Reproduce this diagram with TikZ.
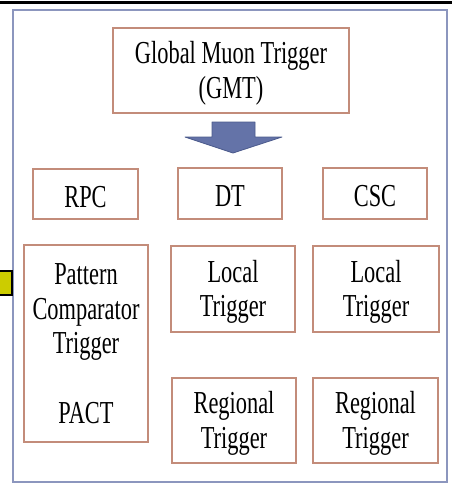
\documentclass[tikz,border=0pt]{standalone}
\usepackage{fontspec}
\setmainfont[FakeStretch=0.7]{Liberation Serif}
\definecolor{boxc}{RGB}{195,140,122}
\definecolor{framec}{RGB}{140,150,190}
\definecolor{arrowc}{RGB}{100,115,168}
\definecolor{arrowd}{RGB}{75,90,140}
\definecolor{yel}{RGB}{204,204,0}
\tikzset{
  box/.style={draw=boxc, line width=2pt, inner sep=0pt},
  txt/.style={align=center, inner sep=0pt, yshift=-3pt,
    font=\fontsize{32}{34.5}\selectfont},
}
\begin{document}
\begin{tikzpicture}[x=1pt,y=-1pt]
\useasboundingbox (0,0) rectangle (452,484);
\clip (0,0) rectangle (452,484);
\draw[line width=3pt] (0,2.5) -- (452,2.5);
\draw[framec, line width=2pt] (13,10) rectangle (447,482);
\draw[fill=yel, line width=1.5pt] (-5,271) rectangle (12,295);
\node[box, minimum width=236pt, minimum height=85pt, label={[txt]center:{Global Muon Trigger\\(GMT)}}] (gmt) at (231,70.5) {};
\node[box, minimum width=105pt, minimum height=50pt, label={[txt]center:RPC}] (rpc) at (85.5,194) {};
\node[box, minimum width=104pt, minimum height=51pt, label={[txt]center:DT}] (dt) at (230,193.5) {};
\node[box, minimum width=104pt, minimum height=51pt, label={[txt]center:CSC}] (csc) at (375,193.5) {};
\node[box, minimum width=124pt, minimum height=197pt, label={[txt, yshift=3pt]center:{Pattern\\Comparator\\Trigger\\[35pt]PACT}}] (pact) at (86,343.5) {};
\node[box, minimum width=124pt, minimum height=86pt, label={[txt]center:{Local\\Trigger}}] (ldt) at (233,289) {};
\node[box, minimum width=126pt, minimum height=86pt, label={[txt]center:{Local\\Trigger}}] (lcsc) at (376,289) {};
\node[box, minimum width=124pt, minimum height=85pt, label={[txt]center:{Regional\\Trigger}}] (rdt) at (234,420.5) {};
\node[box, minimum width=125pt, minimum height=85pt, label={[txt]center:{Regional\\Trigger}}] (rcsc) at (375.5,420.5) {};
\draw[fill=arrowc, draw=arrowd, line width=0.8pt, line join=round]
  (212,122) -- (255,122) -- (255,137) -- (282,137) -- (233,153) -- (185,137) -- (212,137) -- cycle;
\end{tikzpicture}
\end{document}
